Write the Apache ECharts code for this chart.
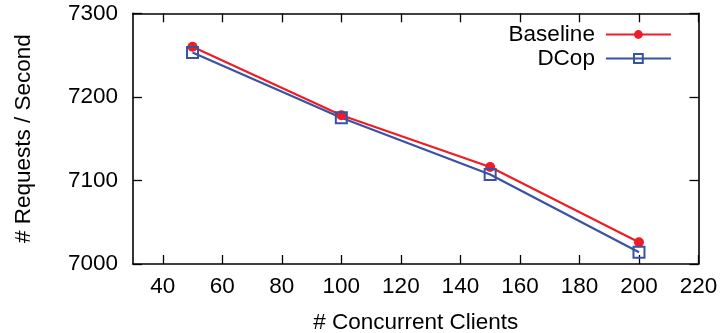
<!DOCTYPE html>
<html>
<head>
    <meta charset="utf-8">
    <title>Requests per second</title>
    <style>
        body { margin: 0; background: #fff; }
    </style>
</head>
<body>
    <div id="main" style="width: 720px;height:333px;"></div>
</body>
<script src="https://cdn.jsdelivr.net/npm/echarts@6/dist/echarts.min.js"></script>
<script>
// data
var clients = [50, 100, 150, 200];
var baseline = [7260, 7178, 7116, 7026];
var dcop = [7253, 7175, 7107, 7014];
var xTicks = [40, 60, 80, 100, 120, 140, 160, 180, 200, 220];
var yTicks = [7000, 7100, 7200, 7300];

var RED = '#ee1c26';
var BLUE = '#3853a4';
var FONT = '"Liberation Sans", Arial, Helvetica, sans-serif';
var FS = 22.5;

function pairs(xs, ys) {
    return xs.map(function (x, i) { return [x, ys[i]]; });
}

var myChart = echarts.init(document.getElementById('main'));

var frameLine = { show: true, onZero: false, lineStyle: { color: '#000', width: 1.6 } };
var tick = { show: true, inside: true, length: 9, lineStyle: { color: '#000', width: 1.3 } };

myChart.setOption({
    animation: false,
    textStyle: { fontFamily: FONT },
    grid: { left: 133, right: 21.5, top: 13.3, bottom: 69, outerBoundsMode: 'none', containLabel: false },
    legend: {
        right: 43,
        top: 18,
        orient: 'vertical',
        align: 'right',
        itemWidth: 65,
        itemHeight: 11,
        itemGap: 1,
        lineStyle: { width: 2.2 },
        textStyle: { fontSize: FS, color: '#000', fontFamily: FONT, padding: [0, 6, 0, 0] },
        data: ['Baseline', 'DCop']
    },
    xAxis: [{
        type: 'value',
        min: 30, max: 220, interval: 10,
        name: '# Concurrent Clients',
        nameLocation: 'middle',
        nameGap: 47,
        nameTextStyle: { fontSize: FS, color: '#000' },
        axisLine: frameLine,
        axisTick: Object.assign({ customValues: xTicks }, tick),
        axisLabel: { customValues: xTicks, fontSize: FS, color: '#000', margin: 11 },
        splitLine: { show: false }
    }, {
        type: 'value', position: 'top',
        min: 30, max: 220, interval: 10,
        axisLine: frameLine,
        axisTick: Object.assign({ customValues: xTicks }, tick),
        axisLabel: { show: false },
        splitLine: { show: false }
    }],
    yAxis: [{
        type: 'value',
        min: 7000, max: 7300, interval: 100,
        name: '# Requests / Second',
        nameLocation: 'middle',
        nameGap: 98,
        nameTextStyle: { fontSize: FS, color: '#000' },
        axisLine: frameLine,
        axisTick: Object.assign({ customValues: yTicks }, tick),
        axisLabel: {
            customValues: yTicks, fontSize: FS, color: '#000', margin: 15,
            formatter: function (v) { return String(v); }
        },
        splitLine: { show: false }
    }, {
        type: 'value', position: 'right',
        min: 7000, max: 7300, interval: 100,
        axisLine: frameLine,
        axisTick: Object.assign({ customValues: yTicks }, tick),
        axisLabel: { show: false },
        splitLine: { show: false }
    }],
    series: [{
        name: 'Baseline',
        type: 'line',
        data: pairs(clients, baseline),
        symbol: 'circle',
        symbolSize: 10,
        lineStyle: { color: RED, width: 2.2 },
        itemStyle: { color: RED }
    }, {
        name: 'DCop',
        type: 'line',
        data: pairs(clients, dcop),
        symbol: 'rect',
        symbolSize: 11,
        lineStyle: { color: BLUE, width: 2.2 },
        itemStyle: { color: 'rgba(255,255,255,0)', borderColor: BLUE, borderWidth: 2 }
    }]
});
</script>
</html>
